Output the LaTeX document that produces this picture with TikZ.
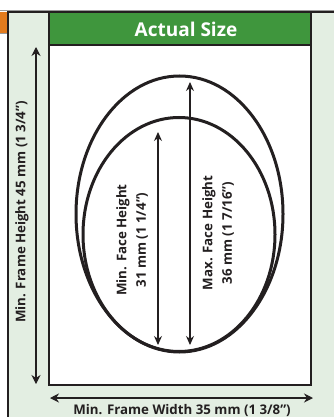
\documentclass[tikz,border=0pt]{standalone}
\usepackage{fontspec}
\setmainfont{Open Sans}
\usetikzlibrary{arrows.meta}
\definecolor{hdrgreen}{HTML}{3F963D}
\definecolor{panelgreen}{HTML}{E3EEE2}
\definecolor{darkline}{HTML}{231F20}
\definecolor{orangebar}{HTML}{E27B1E}
\definecolor{greyline}{HTML}{9A9A9A}
\tikzset{
  dimarrow/.style={darkline, line width=1.1pt, {Stealth[length=9pt,width=9pt]}-{Stealth[length=9pt,width=9pt]}},
  facearrow/.style={darkline, line width=1.1pt, {Stealth[length=9pt,width=8pt]}-{Stealth[length=9pt,width=8pt]}},
  oval/.style={darkline, line width=3pt},
  lbl/.style={font=\fontsize{13.3}{19.5}\selectfont\bfseries, text=darkline, align=center, inner sep=0pt},
}
\begin{document}
\begin{tikzpicture}[x=1pt,y=-1pt]
\useasboundingbox (0,0) rectangle (334,417);
% page background
\fill[white] (0,0) rectangle (334,417);
% panel
\fill[panelgreen] (8,12) rectangle (336,419);
\draw[greyline, line width=0.8pt] (0,10.2) -- (334,10.2);
\fill[orangebar] (0,12) rectangle (7,33);
\draw[greyline, line width=0.8pt] (0,33.5) -- (7,33.5);
\draw[darkline, line width=1.6pt] (8,419) -- (8,12) -- (336,12);
% inner box
\fill[white] (49,12) rectangle (311,385);
\fill[hdrgreen] (49,12) rectangle (311,45);
\draw[darkline, line width=1.6pt] (49,12) rectangle (311,385);
\draw[darkline, line width=1.6pt] (49,45) -- (311,45);
\node[font=\fontsize{19}{21}\selectfont\bfseries, text=white, inner sep=0pt] (title) at (186,29.5) {Actual Size};
% ovals
\draw[oval] (179.5,214) ellipse [x radius=103.5, y radius=138];
\draw[oval] (179,234.5) ellipse [x radius=96, y radius=117];
% frame height arrow
\coordinate (fhtop) at (36,47);
\coordinate (fhbot) at (36,384);
\draw[dimarrow] (fhtop) -- (fhbot);
\node[lbl, rotate=90] (fhlabel) at (22,212) {Min. Frame Height 45 mm (1 3/4”)};
% frame width arrow
\coordinate (fwleft) at (50,398);
\coordinate (fwright) at (313,398);
\draw[dimarrow] (fwleft) -- (fwright);
\node[lbl] (fwlabel) at (182,410.5) {Min. Frame Width 35 mm (1 3/8”)};
% face height arrows
\coordinate (mintop) at (158,132);
\coordinate (minbot) at (158,345);
\draw[facearrow] (mintop) -- (minbot);
\coordinate (maxtop) at (190,82);
\coordinate (maxbot) at (190,345);
\draw[facearrow] (maxtop) -- (maxbot);
\node[lbl, rotate=90] (minlabel) at (132,240) {Min. Face Height\\31 mm (1 1/4”)};
\node[lbl, rotate=90] (maxlabel) at (218,233) {Max. Face Height\\36 mm (1 7/16”)};
\end{tikzpicture}
\end{document}
